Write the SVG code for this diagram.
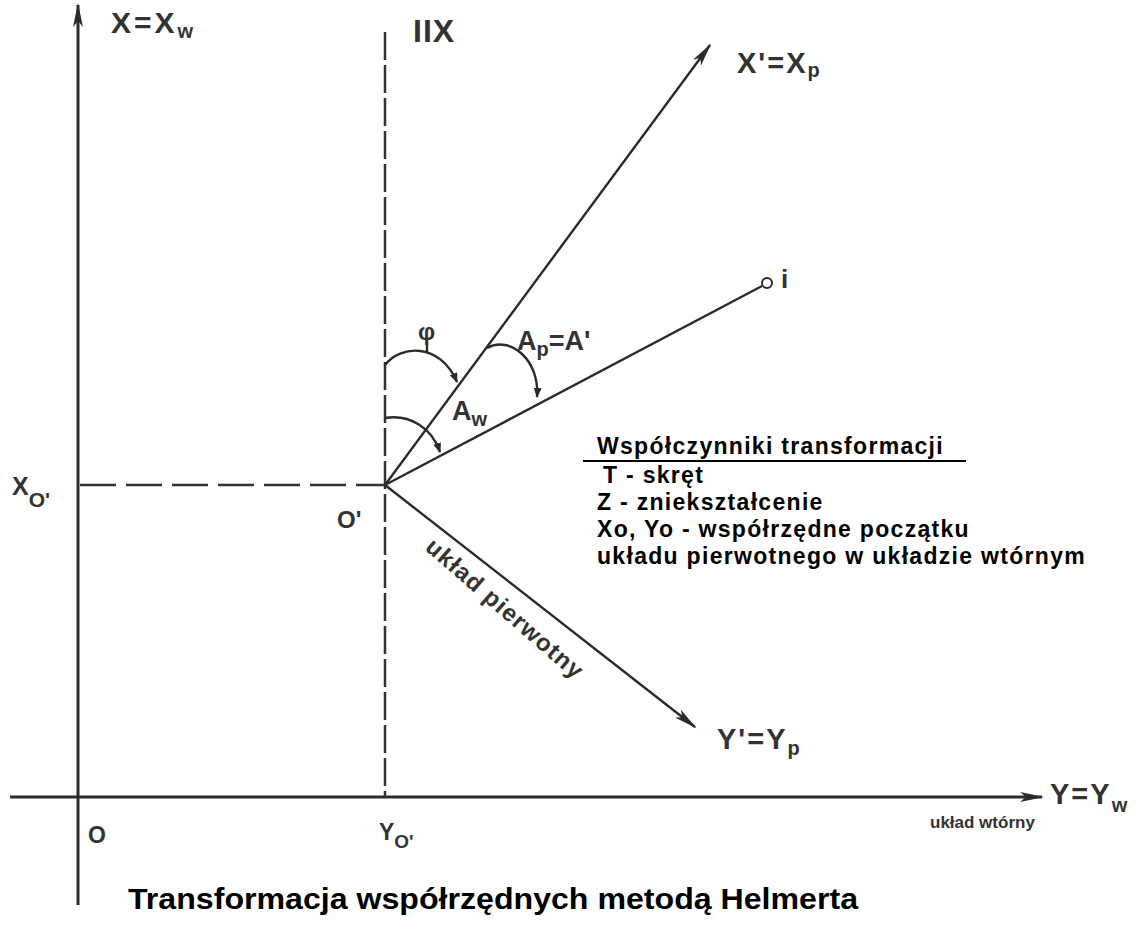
<svg xmlns="http://www.w3.org/2000/svg" width="1142" height="929" viewBox="0 0 1142 929">
<defs>
<marker id="arr" markerWidth="24" markerHeight="10" refX="22" refY="5" orient="auto" markerUnits="userSpaceOnUse"><path d="M0,0 L24,5 L0,10 L6,5 z" fill="#2b2b2b"/></marker>
<marker id="arrS" markerWidth="10" markerHeight="8" refX="9" refY="4" orient="auto" markerUnits="userSpaceOnUse"><path d="M0,0 L10,4 L0,8 z" fill="#2b2b2b"/></marker>
<style>
.ax{stroke:#2b2b2b;stroke-width:3;fill:none}
.ln{stroke:#2b2b2b;stroke-width:2.4;fill:none}
.dh{stroke:#333;stroke-width:2.5;fill:none;stroke-dasharray:36 10}
.dv{stroke:#333;stroke-width:2.5;fill:none;stroke-dasharray:28 5}
.lab{font-family:"Liberation Sans",Arial,sans-serif;font-weight:bold;fill:#333}
.txt{font-family:"Liberation Sans",Arial,sans-serif;font-weight:bold;fill:#000;font-size:23px;letter-spacing:1.3px}
</style>
</defs>
<rect width="1142" height="929" fill="#fff"/>
<g id="connectors">
<line class="ax" x1="78" y1="905" x2="78" y2="5" marker-end="url(#arr)"/>
<line class="ax" x1="10" y1="797" x2="1042" y2="797" marker-end="url(#arr)"/>
<line class="dv" x1="385" y1="32" x2="385" y2="797"/>
<line class="dh" x1="80" y1="485" x2="385" y2="485"/>
<line class="ln" x1="385" y1="485" x2="710" y2="45" marker-end="url(#arr)"/>
<line class="ln" x1="385" y1="485" x2="762" y2="286"/>
<circle cx="767" cy="283" r="5" fill="#fff" stroke="#2b2b2b" stroke-width="2"/>
<line class="ln" x1="385" y1="485" x2="695" y2="727" marker-end="url(#arr)"/>
<path class="ln" d="M385,365 C400,345 440,342 457,382" marker-end="url(#arrS)"/>
<line class="ln" x1="427" y1="352" x2="427" y2="340"/>
<path class="ln" d="M385,418 C410,414 432,428 440,452" marker-end="url(#arrS)"/>
<path class="ln" d="M487,348 C510,335 540,360 537,397" marker-end="url(#arrS)"/>
</g>
<g id="labels">
<text id="lbl-xw" class="lab" x="111" y="33" font-size="30" letter-spacing="3">X=X<tspan font-size="20" dy="5" letter-spacing="0">w</tspan></text>
<text id="lbl-iix" class="lab" x="413" y="42" font-size="32" letter-spacing="1">IIX</text>
<text id="lbl-xp" class="lab" x="737" y="73" font-size="29" letter-spacing="2">X'=X<tspan font-size="20" dy="4" letter-spacing="0">p</tspan></text>
<text id="lbl-i" class="lab" x="781" y="288" font-size="26">i</text>
<text id="lbl-phi" class="lab" x="418" y="340" font-size="24">φ</text>
<text id="lbl-ap" class="lab" x="517" y="350" font-size="27">A<tspan font-size="20" dy="6">p</tspan><tspan dy="-6">=A'</tspan></text>
<text id="lbl-aw" class="lab" x="452" y="420" font-size="27">A<tspan font-size="20" dy="6">w</tspan></text>
<text id="lbl-xo" class="lab" x="12" y="495" font-size="25">X<tspan font-size="21" dy="12">O'</tspan></text>
<text id="lbl-o1" class="lab" x="337" y="528" font-size="24">O'</text>
<text id="lbl-yp" class="lab" x="717" y="749" font-size="29" letter-spacing="2">Y'=Y<tspan font-size="20" dy="6" letter-spacing="0">p</tspan></text>
<text id="lbl-yw" class="lab" x="1050" y="804" font-size="29" letter-spacing="2">Y=Y<tspan font-size="20" dy="8" letter-spacing="0">w</tspan></text>
<text id="lbl-wt" class="lab" x="930" y="828" font-size="17">układ wtórny</text>
<text id="lbl-o" class="lab" x="88" y="843" font-size="23" font-weight="normal">O</text>
<text id="lbl-yo" class="lab" x="379" y="840" font-size="23">Y<tspan font-size="19" dy="8">O'</tspan></text>
<text id="lbl-pier" class="lab" font-size="24" letter-spacing="1.2" transform="translate(424,549) rotate(41)">układ pierwotny</text>
</g>
<g id="legend">
<text class="txt" x="597" y="454">Współczynniki  transformacji</text>
<line x1="583" y1="461" x2="966" y2="461" stroke="#000" stroke-width="2"/>
<text class="txt" x="603" y="483">T - skręt</text>
<text class="txt" x="597" y="510">Z - zniekształcenie</text>
<text class="txt" x="597" y="537">Xo, Yo - współrzędne początku</text>
<text class="txt" x="597" y="564">układu pierwotnego w układzie wtórnym</text>
</g>
<g id="title">
<text x="128" y="909" font-family="Liberation Sans, Arial, sans-serif" font-weight="bold" font-size="30" fill="#000" textLength="730" lengthAdjust="spacingAndGlyphs">Transformacja współrzędnych metodą Helmerta</text>
</g>
</svg>
